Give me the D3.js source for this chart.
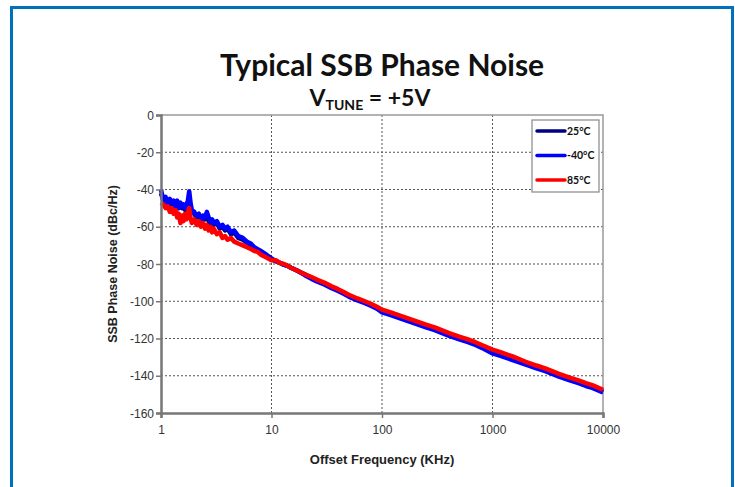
<!DOCTYPE html>
<html>
<head>
<meta charset="utf-8">
<script src="https://cdn.jsdelivr.net/npm/d3@7"></script>
<style>
  body { margin: 0; background: #fff; }
  svg { display: block; }
</style>
</head>
<body>
<div id="chart"></div>
<script>
// offset frequencies (kHz), shared by all series
const freqs = [1, 1.05, 1.1, 1.15, 1.2, 1.25, 1.3, 1.35, 1.4, 1.45, 1.5, 1.55, 1.6, 1.65, 1.7, 1.75, 1.8, 1.85, 1.9,
  2.0, 2.1, 2.2, 2.3, 2.4, 2.5, 2.6, 2.7, 2.8, 2.9, 3.0, 3.2, 3.4, 3.6, 3.8, 4.0, 4.3, 4.6, 5.0, 5.5, 6, 6.5, 7, 7.5, 8, 9,
  10, 11, 12, 13, 14, 15, 17, 20, 23, 26, 30, 35, 40, 45, 50, 60, 70, 80, 90,
  100, 120, 150, 200, 250, 300, 400, 500, 600, 700, 800,
  1000, 1200, 1500, 2000, 2500, 3000, 4000, 5000, 6000, 7000, 8000, 10000];

// 25°C (mostly hidden under the other traces)
const noise25 = [-42, -46, -45, -48, -46, -48, -47, -49, -47, -50, -48, -50, -49, -51, -49, -48, -44, -49, -52,
  -53, -55, -54, -57, -55, -56, -54, -57, -58, -57, -59, -58, -61, -60, -62, -61, -64, -63, -66, -67, -68.5, -70, -71.5, -72.5, -73.5, -75.5,
  -77.5, -78.5, -79.5, -80.5, -81, -82, -83.5, -85.5, -87.5, -89, -90.5, -92.5, -94, -95.5, -97, -99, -100.5, -102, -103.5,
  -105.5, -107, -109, -111.5, -113.5, -115, -118, -120, -121.5, -123, -124.5,
  -127.5, -129, -131, -133.5, -135.5, -137, -140, -142, -143.5, -145, -146, -148.5];

// -40°C
const noiseM40 = [-40, -46, -44, -48, -45, -47, -46, -49, -46, -50, -47, -49, -48, -50, -48, -46, -41, -47, -51,
  -52, -54, -53, -56, -54, -55, -52, -55, -57, -56, -58, -57, -60, -59, -61, -60, -63, -62, -65, -66, -68, -69, -71, -72, -73, -75,
  -77, -78.5, -79.5, -80.5, -81, -82, -83.5, -86, -88, -89.5, -91, -93, -94.5, -96, -97.5, -99.5, -101, -102.5, -104,
  -106, -107.5, -109.5, -112, -114, -115.5, -118.5, -120.5, -122, -123.5, -125,
  -128, -129.5, -131.5, -134, -136, -137.5, -140.5, -142.5, -144, -145.5, -146.5, -149];

// 85°C
const noise85 = [-47, -48, -50, -49, -52, -50, -53, -51, -55, -53, -58, -54, -57, -53, -56, -52, -50, -55, -58,
  -56, -59, -57, -60, -58, -61, -59, -62, -60, -63, -61, -64, -63, -66, -65, -67, -66, -68, -69, -70, -71, -72, -73, -73.5, -75, -76.5,
  -78, -78, -79.5, -80, -81, -82, -83.5, -85.5, -87, -88.5, -90, -92, -93.5, -95, -96.5, -98.5, -100, -101.5, -103,
  -104.5, -106, -108, -110.5, -112.5, -114, -117, -119, -120.5, -122, -123.5,
  -126, -127.5, -129.5, -132.5, -134.5, -136, -139, -141, -142.5, -144, -145, -147.5];

const xTicks = [1, 10, 100, 1000, 10000];
const yTicks = [0, -20, -40, -60, -80, -100, -120, -140, -160];

const seriesNames = ['25°C', '-40°C', '85°C'];
const seriesColors = ['#000080', '#0000ff', '#ff0000'];
const seriesValues = [noise25, noiseM40, noise85];

const W = 735, H = 487;
const plot = { left: 161, right: 603, top: 115, bottom: 413 };

const svg = d3.select('#chart').append('svg')
  .attr('width', W).attr('height', H);

// blue frame
svg.append('rect')
  .attr('x', 11.5).attr('y', 7.5)
  .attr('width', 721).attr('height', 500)
  .attr('fill', 'none')
  .attr('stroke', '#0071bc')
  .attr('stroke-width', 3);

const x = d3.scaleLog().domain([1, 10000]).range([plot.left, plot.right]);
const y = d3.scaleLinear().domain([-160, 0]).range([plot.bottom, plot.top]);

// grid
svg.append('g').selectAll('line')
  .data(yTicks.filter(d => d !== -160 && d !== 0))
  .enter().append('line')
  .attr('x1', plot.left).attr('x2', plot.right)
  .attr('y1', d => y(d)).attr('y2', d => y(d))
  .attr('stroke', '#555').attr('stroke-width', 1)
  .attr('stroke-dasharray', '2,2');

svg.append('g').selectAll('line')
  .data(xTicks.filter(d => d !== 1 && d !== 10000))
  .enter().append('line')
  .attr('x1', d => x(d)).attr('x2', d => x(d))
  .attr('y1', plot.top).attr('y2', plot.bottom)
  .attr('stroke', '#555').attr('stroke-width', 1)
  .attr('stroke-dasharray', '2,2');

// top and right border
svg.append('path')
  .attr('d', `M${plot.left},${plot.top}H${plot.right}V${plot.bottom}`)
  .attr('fill', 'none').attr('stroke', '#999').attr('stroke-width', 1.5);

// traces
const line = d3.line()
  .x((d, i) => x(freqs[i]))
  .y(d => y(d));

svg.append('g').selectAll('path')
  .data(seriesValues)
  .enter().append('path')
  .attr('d', d => line(d))
  .attr('fill', 'none')
  .attr('stroke', (d, i) => seriesColors[i])
  .attr('stroke-width', 4.5)
  .attr('stroke-linejoin', 'round');

// axes
const yAxis = d3.axisLeft(y).tickValues(yTicks).tickSize(5).tickFormat(d => String(d));
const xAxis = d3.axisBottom(x).tickValues(xTicks).tickSize(5).tickFormat(d => String(d));

const gy = svg.append('g').attr('transform', `translate(${plot.left},0)`).call(yAxis);
const gx = svg.append('g').attr('transform', `translate(0,${plot.bottom})`).call(xAxis);

[gx, gy].forEach(g => {
  g.select('.domain').attr('stroke', '#777').attr('stroke-width', 2.5);
  g.selectAll('.tick line').attr('stroke', '#777').attr('stroke-width', 1.5);
  g.selectAll('.tick text')
    .attr('fill', '#333')
    .style('font-family', '"Liberation Sans", Arial, sans-serif')
    .style('font-size', '12px');
});
gy.selectAll('.tick text').attr('x', -7).attr('dy', '0.35em');
gx.selectAll('.tick text').attr('y', 12).attr('dy', '0.71em');

// titles
svg.append('text')
  .attr('x', 382).attr('y', 76)
  .attr('text-anchor', 'middle')
  .style('font-family', 'Lato, sans-serif')
  .style('font-weight', 'bold')
  .style('font-size', '30px')
  .attr('fill', '#111')
  .text('Typical SSB Phase Noise');

const sub = svg.append('text')
  .attr('x', 370).attr('y', 106)
  .attr('text-anchor', 'middle')
  .style('font-family', 'Lato, sans-serif')
  .style('font-weight', 'bold')
  .style('font-size', '23px')
  .attr('fill', '#111');
sub.append('tspan').text('V');
sub.append('tspan').attr('dy', 4).style('font-size', '14px').text('TUNE');
sub.append('tspan').attr('dy', -4).text(' = +5V');

svg.append('text')
  .attr('transform', `translate(117,${(plot.top + plot.bottom) / 2}) rotate(-90)`)
  .attr('text-anchor', 'middle')
  .style('font-family', '"Liberation Sans", Arial, sans-serif')
  .style('font-weight', 'bold')
  .style('font-size', '12.5px')
  .attr('fill', '#222')
  .text('SSB Phase Noise (dBc/Hz)');

svg.append('text')
  .attr('x', 382).attr('y', 464)
  .attr('text-anchor', 'middle')
  .style('font-family', '"Liberation Sans", Arial, sans-serif')
  .style('font-weight', 'bold')
  .style('font-size', '13px')
  .attr('fill', '#222')
  .text('Offset Frequency (KHz)');

// legend
const lg = svg.append('g');
lg.append('rect')
  .attr('x', 532).attr('y', 120)
  .attr('width', 67).attr('height', 72)
  .attr('fill', '#fff')
  .attr('stroke', '#888').attr('stroke-width', 1.2);

const rows = lg.selectAll('g.row')
  .data(seriesNames)
  .enter().append('g')
  .attr('class', 'row')
  .attr('transform', (d, i) => `translate(0,${131 + i * 24.5})`);

rows.append('line')
  .attr('x1', 537).attr('x2', 565)
  .attr('stroke', (d, i) => seriesColors[i])
  .attr('stroke-width', 3.5)
  .attr('stroke-linecap', 'round');

rows.append('text')
  .attr('x', 567).attr('dy', '0.35em')
  .style('font-family', 'Lato, sans-serif')
  .style('font-weight', 'bold')
  .style('font-size', '10.5px')
  .attr('fill', '#111')
  .text(d => d);
</script>
</body>
</html>
